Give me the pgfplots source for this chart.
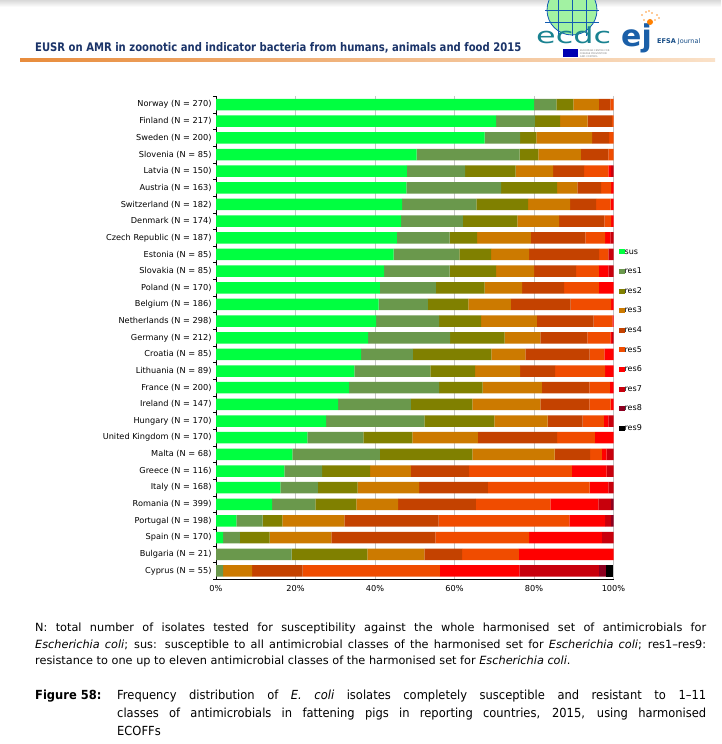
\documentclass[border=0pt]{standalone}
\usepackage{fontspec}
\setmainfont{DejaVu Sans}
\newfontfamily\hdrfont[FakeStretch=0.85]{DejaVu Sans}
\newfontfamily\fnfont{DejaVu Sans}
\newfontfamily\capfont[FakeStretch=0.92]{DejaVu Sans}
\usepackage{pgfplots}
\pgfplotsset{compat=1.18}
\usepackage{pgfplotstable}
\definecolor{csus}{RGB}{0,255,64}
\definecolor{cr1}{RGB}{106,152,76}
\definecolor{cr2}{RGB}{128,128,0}
\definecolor{cr3}{RGB}{204,122,0}
\definecolor{cr4}{RGB}{196,66,0}
\definecolor{cr5}{RGB}{240,76,0}
\definecolor{cr6}{RGB}{255,0,0}
\definecolor{cr7}{RGB}{200,0,12}
\definecolor{cr8}{RGB}{140,0,32}
\definecolor{cr9}{RGB}{0,0,0}
\definecolor{hdrblue}{RGB}{27,52,105}
\definecolor{ecdcteal}{RGB}{25,130,145}
\definecolor{ejblue}{RGB}{26,95,168}
\pgfplotstableread{
idx sus r1 r2 r3 r4 r5 r6 r7 r8 r9
0 80.0 5.6 4.3 6.4 2.9 0.8 0 0 0 0
1 70.5 9.7 6.4 6.9 6.1 0.4 0 0 0 0
2 67.6 8.9 4.1 14.0 4.3 1.1 0 0 0 0
3 50.5 25.9 4.7 10.7 6.9 1.3 0 0 0 0
4 48.0 14.7 12.7 9.4 7.8 6.1 0.7 0.6 0 0
5 47.9 23.8 14.1 5.1 6.0 2.5 0.6 0 0 0
6 46.8 18.7 13.0 10.6 6.5 3.7 0.7 0 0 0
7 46.6 15.5 13.7 10.5 11.4 1.7 0.6 0 0 0
8 45.5 13.3 6.9 13.5 13.7 5.0 1.3 0.8 0 0
9 44.7 16.5 8.0 9.6 17.6 2.3 0 1.3 0 0
10 42.3 16.5 11.7 9.5 10.6 5.7 2.4 1.3 0 0
11 41.2 14.1 12.3 9.4 10.6 8.7 3.7 0 0 0
12 40.9 12.4 10.2 10.7 15.0 10.2 0.6 0 0 0
13 40.3 15.8 10.6 14.0 14.3 4.7 0.3 0 0 0
14 38.3 20.6 13.7 9.0 11.8 5.8 0.4 0.4 0 0
15 36.5 13.0 19.8 8.5 16.2 3.7 2.3 0 0 0
16 34.8 19.1 11.3 11.3 8.8 12.6 2.1 0 0 0
17 33.5 22.6 11.0 14.9 11.9 5.2 0.9 0 0 0
18 30.7 18.3 15.5 17.1 12.3 5.4 0.7 0 0 0
19 27.7 24.7 17.6 13.4 8.8 5.4 1.1 1.3 0 0
20 23.0 14.1 12.3 16.5 19.9 9.5 4.7 0 0 0
21 19.2 22.0 23.3 20.7 8.9 3.0 1.2 1.7 0 0
22 17.2 9.5 12.1 10.2 14.7 25.8 8.8 1.7 0 0
23 16.2 9.4 10.0 15.5 17.3 25.6 4.7 1.3 0 0
24 14.1 10.9 10.3 10.5 19.6 18.7 12.1 3.2 0.6 0
25 5.1 6.6 5.0 15.6 23.7 32.9 9.0 1.5 0.6 0
26 1.8 4.2 7.5 15.5 26.2 23.6 18.3 2.9 0 0
27 0 19.0 19.1 14.3 9.5 14.3 23.8 0 0 0
28 0 1.8 0 7.3 12.7 34.5 20.0 20.0 1.8 1.8
}\datatable
\begin{document}
\begin{tikzpicture}[x=1pt,y=1pt]
\useasboundingbox (0,0) rectangle (721,744);
\fill[white] (0,0) rectangle (721,744);
% top shadow
\shade[top color=gray!30, bottom color=white] (0,737) rectangle (721,744);
% header
\node[anchor=base west, inner sep=0pt, text=hdrblue] at (35,692.5)
  {\resizebox{486pt}{!}{\hdrfont\fontsize{12}{14}\selectfont\bfseries EUSR on AMR in zoonotic and indicator bacteria from humans, animals and food 2015}};
\shade[left color={rgb,255:red,232;green,140;blue,60}, right color={rgb,255:red,250;green,225;blue,200}] (20,682) rectangle (715,685.5);
% ecdc logo
\begin{scope}
\clip (530,708) rectangle (620,744);
\fill[green!35!white!90!gray] (572,734) circle (25);
\draw[ecdcteal!70!blue, line width=0.8pt] (572,734) circle (25);
\foreach \a in {-14,0,14} {\draw[ecdcteal!70!blue, line width=0.5pt] (572+\a,706) -- (572+\a,760);}
\foreach \b in {-12,0} {\draw[ecdcteal!70!blue, line width=0.5pt] (545,734+\b) -- (599,734+\b);}
\end{scope}
\node[anchor=base west, inner sep=0pt, text=ecdcteal] at (536,700)
  {\scalebox{1.45}[1]{\fontsize{22}{24}\selectfont ecdc}};
\fill[blue!70!black] (563,687) rectangle (578,695);
\node[anchor=west, inner sep=0pt, align=left, text=gray, font=\fontsize{2.4}{2.7}\selectfont] at (580,690.5)
  {EUROPEAN CENTRE FOR\\DISEASE PREVENTION\\AND CONTROL};
% ej logo
\node[anchor=base west, inner sep=0pt, text=ejblue] at (621,697)
  {\fontsize{30}{32}\selectfont\bfseries ej};
\fill[orange] (650,722) circle (3);
\foreach \p in {(642,729),(646,732),(652,731),(657,729),(655,724),(659,726),(644,724),(649,733)} {\fill[orange!80] \p circle (0.9);}
\node[anchor=base west, inner sep=0pt, text=ejblue!80!black] at (657,700)
  {\fontsize{6.5}{7}\selectfont\textbf{EFSA} Journal};
% chart
\begin{axis}[
  at={(216pt,164.7pt)}, anchor=south west,
  scale only axis, width=397.5pt, height=483.1pt,
  xbar stacked, bar width=11.5pt,
  xmin=0, xmax=100, ymin=-0.5, ymax=28.5, y dir=reverse,
  axis x line*=bottom, axis y line*=left,
  axis line style={black, line width=0.8pt},
  xtick={0,20,40,60,80,100},
  xticklabels={0\%,20\%,40\%,60\%,80\%,100\%},
  xmajorgrids, grid style={gray!45, line width=0.6pt},
  ytick={0,...,28},
  yticklabels={Norway (N = 270),Finland (N = 217),Sweden (N = 200),Slovenia (N = 85),Latvia (N = 150),Austria (N = 163),Switzerland (N = 182),Denmark (N = 174),Czech Republic (N = 187),Estonia (N = 85),Slovakia (N = 85),Poland (N = 170),Belgium (N = 186),Netherlands (N = 298),Germany (N = 212),Croatia (N = 85),Lithuania (N = 89),France (N = 200),Ireland (N = 147),Hungary (N = 170),United Kingdom (N = 170),Malta (N = 68),Greece (N = 116),Italy (N = 168),Romania (N = 399),Portugal (N = 198),Spain (N = 170),Bulgaria (N = 21),Cyprus (N = 55)},
  minor ytick={-0.5,0.5,...,28.5},
  major tick length=0pt, minor tick length=3pt,
  tick align=outside, minor tick style={black, line width=0.6pt},
  tick label style={font=\fontsize{8.2}{9.8}\selectfont},
  yticklabel style={xshift=-1pt},
  xticklabel style={yshift=-3pt},
  legend style={at={(1.006,0.690)}, anchor=north west, draw=none, fill=none,
    font=\fontsize{8}{9}\selectfont, row sep=12.1pt,
    nodes={inner sep=0pt, text height=6pt, text depth=1.5pt}},
  legend cell align=left,
  legend image code/.code={\fill[#1] (0pt,-2.5pt) rectangle (5.5pt,2.5pt);},
]
\addplot[fill=csus, draw=none] table[x=sus, y=idx] {\datatable};
\addplot[fill=cr1, draw=none] table[x=r1, y=idx] {\datatable};
\addplot[fill=cr2, draw=none] table[x=r2, y=idx] {\datatable};
\addplot[fill=cr3, draw=none] table[x=r3, y=idx] {\datatable};
\addplot[fill=cr4, draw=none] table[x=r4, y=idx] {\datatable};
\addplot[fill=cr5, draw=none] table[x=r5, y=idx] {\datatable};
\addplot[fill=cr6, draw=none] table[x=r6, y=idx] {\datatable};
\addplot[fill=cr7, draw=none] table[x=r7, y=idx] {\datatable};
\addplot[fill=cr8, draw=none] table[x=r8, y=idx] {\datatable};
\addplot[fill=cr9, draw=none] table[x=r9, y=idx] {\datatable};
\legend{sus,res1,res2,res3,res4,res5,res6,res7,res8,res9}
\end{axis}
% footnote
\node[anchor=base west, inner sep=0pt] at (35,112)
  {\fnfont\fontsize{11.3}{13}\selectfont\makebox[671pt][s]{N: total number of isolates tested for susceptibility against the whole harmonised set of antimicrobials for}};
\node[anchor=base west, inner sep=0pt] at (35,95.5)
  {\fnfont\fontsize{11.3}{13}\selectfont\makebox[671pt][s]{\textit{Escherichia coli}; sus: susceptible to all antimicrobial classes of the harmonised set for \textit{Escherichia coli}; res1–res9:}};
\node[anchor=base west, inner sep=0pt] at (35,79)
  {\fnfont\fontsize{11.3}{13}\selectfont resistance to one up to eleven antimicrobial classes of the harmonised set for \textit{Escherichia coli}.};
% caption
\node[anchor=base west, inner sep=0pt] at (35,44)
  {\capfont\fontsize{12.5}{14}\selectfont\bfseries Figure 58:};
\node[anchor=base west, inner sep=0pt] at (117,44)
  {\capfont\fontsize{12.5}{14}\selectfont\makebox[589pt][s]{Frequency distribution of \textit{E. coli} isolates completely susceptible and resistant to 1–11}};
\node[anchor=base west, inner sep=0pt] at (117,26.5)
  {\capfont\fontsize{12.5}{14}\selectfont\makebox[589pt][s]{classes of antimicrobials in fattening pigs in reporting countries, 2015, using harmonised}};
\node[anchor=base west, inner sep=0pt] at (117,9)
  {\capfont\fontsize{12.5}{14}\selectfont ECOFFs};
\end{tikzpicture}
\end{document}
